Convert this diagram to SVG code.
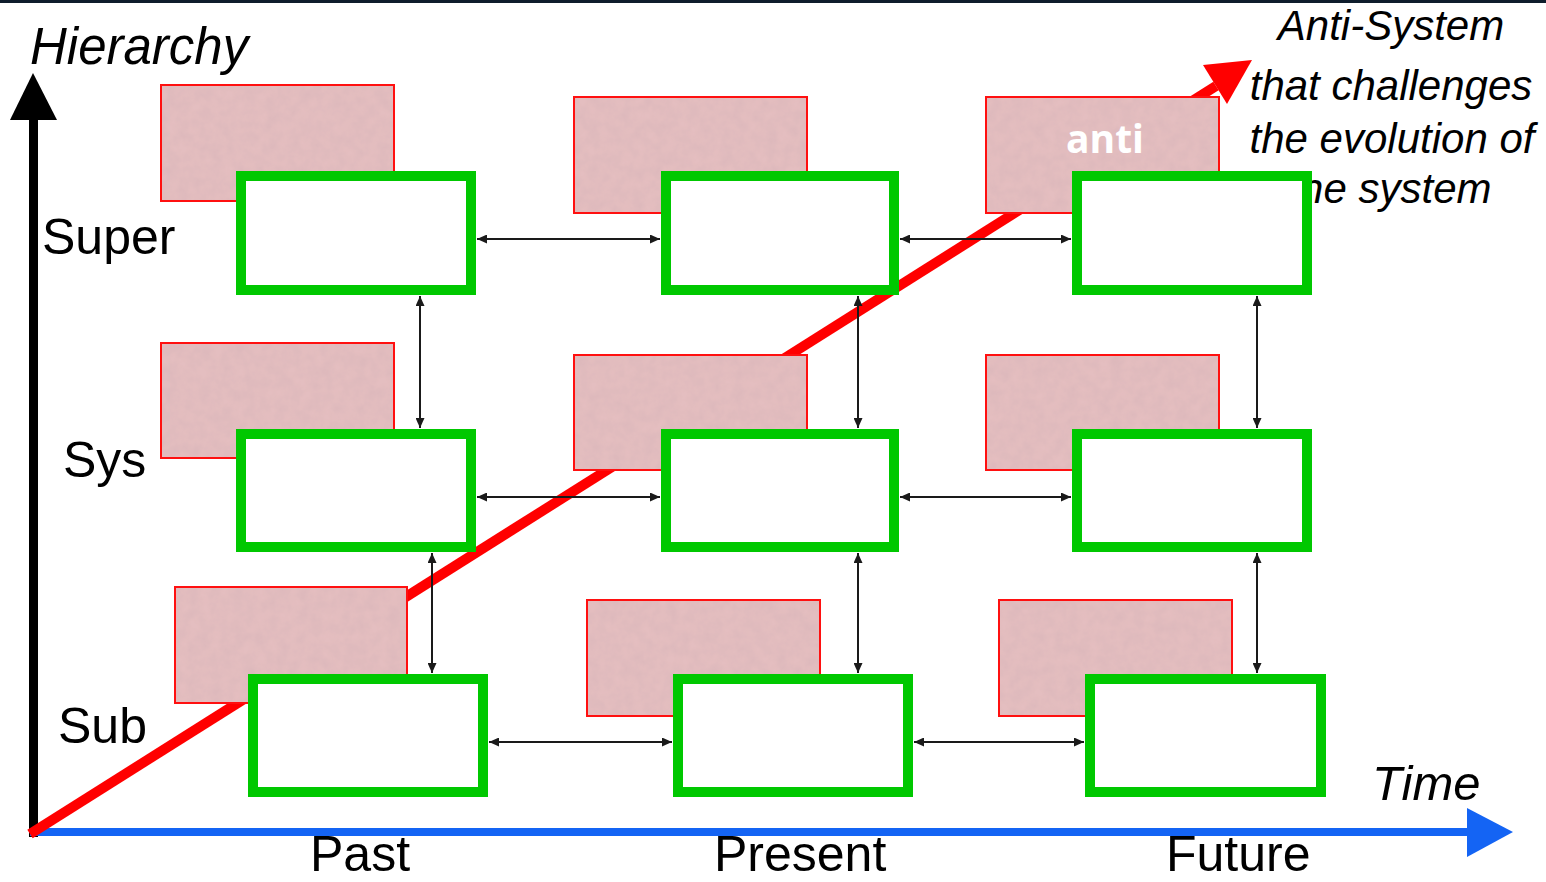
<svg xmlns="http://www.w3.org/2000/svg" width="1546" height="882" viewBox="0 0 1546 882">
  <style>
    .lbl { font-family: "Liberation Sans", Arial, sans-serif; font-size: 50px; fill: #000; }
    .it { font-family: "Liberation Sans", Arial, sans-serif; font-style: italic; fill: #000; }
    .pinkfill { fill: #e4bec0; filter: url(#grain); }
    .pinkedge { fill: none; stroke: #ff1010; stroke-width: 2; }
    .green { fill: #fff; stroke: #00c800; stroke-width: 10; }
    .conn { stroke: #1a1a1a; stroke-width: 2; fill: none; marker-start: url(#ah); marker-end: url(#ah); }
    .anti { font-family: "Open Sans", "Liberation Sans", sans-serif; font-weight: bold; font-size: 39px; fill: #fff; }
  </style>
  <defs>
    <marker id="ah" viewBox="0 0 10 9" refX="10" refY="4.5" markerWidth="10" markerHeight="9" markerUnits="userSpaceOnUse" orient="auto-start-reverse">
      <path d="M0,0 L10,4.5 L0,9 z" fill="#1a1a1a"/>
    </marker>
    <filter id="grain" x="0" y="0" width="1" height="1">
      <feTurbulence type="fractalNoise" baseFrequency="0.09" numOctaves="3" seed="4" result="n"/>
      <feColorMatrix in="n" type="matrix" values="0 0 0 0 0.62  0 0 0 0 0.42  0 0 0 0 0.45  0 0 0 0.5 -0.12" result="c"/>
      <feComposite in="c" in2="SourceGraphic" operator="in" result="cc"/>
      <feMerge><feMergeNode in="SourceGraphic"/><feMergeNode in="cc"/></feMerge>
    </filter>
  </defs>
  <rect x="0" y="0" width="1546" height="882" fill="#fff"/>
  <rect x="0" y="0" width="1546" height="3" fill="#0f1d2c"/>

  <g id="axes">
    <line x1="33.5" y1="837" x2="33.5" y2="116" stroke="#000" stroke-width="9"/>
    <polygon points="33,73 57,120 10,120" fill="#000"/>
    <line x1="30" y1="832" x2="1470" y2="832" stroke="#1464f4" stroke-width="8"/>
    <polygon points="1513,832 1467,808 1467,857" fill="#1464f4"/>
    <line x1="30" y1="834" x2="1216" y2="86" stroke="#ff0000" stroke-width="10"/>
    <polygon points="1252,60 1203,65 1227,104" fill="#ff0000"/>
  </g>

  <g id="labels">
    <text class="it" x="30" y="64" font-size="51">Hierarchy</text>
    <text class="lbl" x="42" y="254" font-size="51">Super</text>
    <text class="lbl" x="63" y="477">Sys</text>
    <text class="lbl" x="58" y="743">Sub</text>
    <text class="it" x="1372" y="800" font-size="49">Time</text>
    <text class="lbl" x="310" y="871" font-size="49">Past</text>
    <text class="lbl" x="714" y="871" font-size="49">Present</text>
    <text class="lbl" x="1166" y="871" font-size="49">Future</text>
    <g class="it" font-size="42" text-anchor="middle">
      <text x="1391" y="40">Anti-System</text>
      <text x="1391" y="100">that challenges</text>
      <text x="1392" y="153">the evolution of</text>
      <text x="1390" y="203">the system</text>
    </g>
  </g>

  <g id="super-past"><rect class="pinkfill" x="161" y="85" width="233" height="116"/><rect class="pinkedge" x="161" y="85" width="233" height="116"/><rect class="green" x="241" y="176" width="230" height="114"/></g>
  <g id="super-present"><rect class="pinkfill" x="574" y="97" width="233" height="116"/><rect class="pinkedge" x="574" y="97" width="233" height="116"/><rect class="green" x="666" y="176" width="228" height="114"/></g>
  <g id="super-future"><rect class="pinkfill" x="986" y="97" width="233" height="116"/><rect class="pinkedge" x="986" y="97" width="233" height="116"/><text class="anti" x="1066" y="153">anti</text><rect class="green" x="1077" y="176" width="230" height="114"/></g>

  <g id="sys-past"><rect class="pinkfill" x="161" y="343" width="233" height="115"/><rect class="pinkedge" x="161" y="343" width="233" height="115"/><rect class="green" x="241" y="434" width="230" height="113"/></g>
  <g id="sys-present"><rect class="pinkfill" x="574" y="355" width="233" height="115"/><rect class="pinkedge" x="574" y="355" width="233" height="115"/><rect class="green" x="666" y="434" width="228" height="113"/></g>
  <g id="sys-future"><rect class="pinkfill" x="986" y="355" width="233" height="115"/><rect class="pinkedge" x="986" y="355" width="233" height="115"/><rect class="green" x="1077" y="434" width="230" height="113"/></g>

  <g id="sub-past"><rect class="pinkfill" x="175" y="587" width="232" height="116"/><rect class="pinkedge" x="175" y="587" width="232" height="116"/><rect class="green" x="253" y="679" width="230" height="113"/></g>
  <g id="sub-present"><rect class="pinkfill" x="587" y="600" width="233" height="116"/><rect class="pinkedge" x="587" y="600" width="233" height="116"/><rect class="green" x="678" y="679" width="230" height="113"/></g>
  <g id="sub-future"><rect class="pinkfill" x="999" y="600" width="233" height="116"/><rect class="pinkedge" x="999" y="600" width="233" height="116"/><rect class="green" x="1090" y="679" width="231" height="113"/></g>

  <g id="connectors">
    <line class="conn" x1="477" y1="239" x2="660" y2="239"/>
    <line class="conn" x1="900" y1="239" x2="1071" y2="239"/>
    <line class="conn" x1="477" y1="497" x2="660" y2="497"/>
    <line class="conn" x1="900" y1="497" x2="1071" y2="497"/>
    <line class="conn" x1="489" y1="742" x2="672" y2="742"/>
    <line class="conn" x1="914" y1="742" x2="1084" y2="742"/>
    <line class="conn" x1="420" y1="296" x2="420" y2="428"/>
    <line class="conn" x1="432" y1="553" x2="432" y2="673"/>
    <line class="conn" x1="858" y1="296" x2="858" y2="428"/>
    <line class="conn" x1="858" y1="553" x2="858" y2="673"/>
    <line class="conn" x1="1257" y1="296" x2="1257" y2="428"/>
    <line class="conn" x1="1257" y1="553" x2="1257" y2="673"/>
  </g>
</svg>
